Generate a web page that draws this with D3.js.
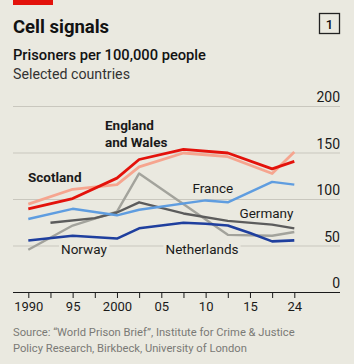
<!DOCTYPE html>
<html>
<head>
<meta charset="utf-8">
<script src="https://cdn.jsdelivr.net/npm/d3@7"></script>
<style>
  body { margin: 0; background: #eae9e0; }
  svg { display: block; font-family: Roboto, "Noto Sans", sans-serif; }
</style>
</head>
<body>
<div id="chart"></div>
<script>
// data, one value per axis step (null = no point there)
var periods = ["1990", "1992", "1995", "1997", "2000", "2002", "2005", "2007", "2010", "2012", "2015", "2017", "2024"];
var tickLabels = ["1990", "", "95", "", "2000", "", "05", "", "10", "", "15", "", "24"];
var yTicks = [0, 50, 100, 150, 200];

var netherlands = [46, null, 72, null, 87, 128, null, null, null, 62, null, 61, 65];
var germany = [null, 75, null, 80, 86, 97, null, 85, null, 77, null, 73, 69];
var norway = [56, null, 61, null, 58, 69, null, 75, 74, 72, 64, 55, 56];
var france = [79, null, 90, null, 83, 89, null, null, 99, 97, null, 119, 116];
var scotland = [95, null, 111, null, 116, 135, null, 150, null, 146, null, 128, 151];
var englandWales = [90, null, 101, null, 123, 143, null, 154, null, 150, null, 133, 141];

var width = 354, height = 364;
var left = 13, right = 340;

var svg = d3.select("#chart").append("svg")
  .attr("width", width)
  .attr("height", height);

svg.append("rect")
  .attr("width", width).attr("height", height)
  .attr("fill", "#eae9e0");

// red tag + title block
svg.append("rect")
  .attr("x", 13).attr("y", 0)
  .attr("width", 40).attr("height", 5)
  .attr("fill", "#e3120b");

svg.append("text")
  .attr("x", left).attr("y", 33)
  .attr("font-size", 18.5).attr("font-weight", 700)
  .attr("fill", "#121212")
  .text("Cell signals");

svg.append("rect")
  .attr("x", 319.5).attr("y", 13.5)
  .attr("width", 20).attr("height", 20)
  .attr("fill", "none").attr("stroke", "#222").attr("stroke-width", 1.3);

svg.append("text")
  .attr("x", 329.5).attr("y", 28.5)
  .attr("text-anchor", "middle")
  .attr("font-size", 13).attr("font-weight", 500)
  .attr("fill", "#121212")
  .text("1");

svg.append("text")
  .attr("x", left).attr("y", 59.5)
  .attr("font-size", 14.7).attr("font-weight", 500)
  .attr("fill", "#121212")
  .text("Prisoners per 100,000 people");

svg.append("text")
  .attr("x", left).attr("y", 79)
  .attr("font-size", 14.2)
  .attr("fill", "#333")
  .text("Selected countries");

// scales
var x = d3.scalePoint()
  .domain(periods)
  .range([28.3, 294.3]);

var y = d3.scaleLinear()
  .domain([0, 200])
  .range([292.5, 106.5]);

// gridlines + y labels on the right
var grid = svg.append("g");
grid.selectAll("line")
  .data(yTicks.filter(d => d > 0))
  .enter().append("line")
  .attr("x1", left).attr("x2", right)
  .attr("y1", d => y(d)).attr("y2", d => y(d))
  .attr("stroke", "#c9c7be").attr("stroke-width", 1);

grid.selectAll("text")
  .data(yTicks)
  .enter().append("text")
  .attr("x", right).attr("y", d => y(d) - 4.5)
  .attr("text-anchor", "end")
  .attr("font-size", 14)
  .attr("fill", "#1a1a1a")
  .text(d => d);

// x axis
var xAxis = d3.axisBottom(x)
  .tickSize(5.5)
  .tickSizeOuter(0)
  .tickPadding(4)
  .tickFormat((d, i) => tickLabels[i]);

var xg = svg.append("g")
  .attr("transform", `translate(0, ${y(0)})`)
  .call(xAxis);
xg.select(".domain").remove();
xg.selectAll(".tick line").attr("stroke", "#1a1a1a");
xg.selectAll(".tick text")
  .attr("font-size", 13)
  .attr("font-family", "Roboto, sans-serif")
  .attr("fill", "#1a1a1a");

svg.append("line")
  .attr("x1", left).attr("x2", right)
  .attr("y1", y(0)).attr("y2", y(0))
  .attr("stroke", "#1a1a1a").attr("stroke-width", 1.2);

// lines
var series = [
  { name: "Netherlands", values: netherlands, color: "#a3a39c", w: 2.4 },
  { name: "Germany", values: germany, color: "#5c5c5c", w: 2.4 },
  { name: "Norway", values: norway, color: "#1f3f9e", w: 2.6 },
  { name: "France", values: france, color: "#5f9de0", w: 2.4 },
  { name: "Scotland", values: scotland, color: "#f6a58f", w: 2.8 },
  { name: "England and Wales", values: englandWales, color: "#e3120b", w: 2.8 }
];

var line = d3.line()
  .x(d => x(d.p))
  .y(d => y(d.v));

svg.append("g").selectAll("path")
  .data(series)
  .enter().append("path")
  .attr("fill", "none")
  .attr("stroke", d => d.color)
  .attr("stroke-width", d => d.w)
  .attr("stroke-linejoin", "round")
  .attr("d", d => line(periods.map((p, i) => ({ p: p, v: d.values[i] })).filter(e => e.v !== null)));

// series labels
function label(txt, lx, ly, bold, knockout) {
  var t = svg.append("text")
    .attr("x", lx).attr("y", ly)
    .attr("font-size", 13.5)
    .attr("font-weight", bold ? 700 : 400)
    .attr("fill", "#1a1a1a")
    .text(txt);
  if (knockout) {
    var b = t.node().getBBox();
    svg.insert("rect", function() { return t.node(); })
      .attr("x", b.x - 2).attr("y", b.y)
      .attr("width", b.width + 4).attr("height", b.height)
      .attr("fill", "#eae9e0");
  }
}

label("England", 105, 130, true);
label("and Wales", 105, 146.5, true);
label("Scotland", 28, 181.5, true);
label("France", 192.5, 192.5, false);
label("Germany", 239.5, 217.5, false);
label("Norway", 61, 253.5, false, true);
label("Netherlands", 165.5, 253.5, false, true);

// source
svg.append("text")
  .attr("x", left).attr("y", 335.5)
  .attr("font-size", 11.2)
  .attr("fill", "#7a7a76")
  .text("Source: “World Prison Brief”, Institute for Crime & Justice");
svg.append("text")
  .attr("x", left).attr("y", 352)
  .attr("font-size", 11.2)
  .attr("fill", "#7a7a76")
  .text("Policy Research, Birkbeck, University of London");
</script>
</body>
</html>
